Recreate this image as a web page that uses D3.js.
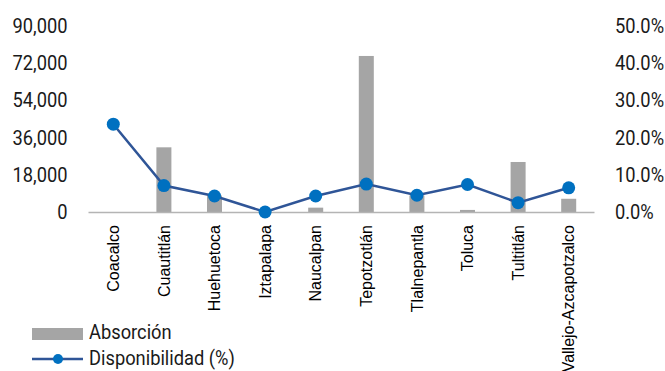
<!DOCTYPE html>
<html>
<head>
<meta charset="utf-8">
<script src="https://cdn.jsdelivr.net/npm/d3@7"></script>
<style>
  html, body { margin: 0; padding: 0; background: #fff; }
  svg { display: block; }
</style>
</head>
<body>
<svg id="chart" width="665" height="371"></svg>
<script>
const categories = ["Coacalco", "Cuautitlán", "Huehuetoca", "Iztapalapa", "Naucalpan", "Tepotzotlán", "Tlalnepantla", "Toluca", "Tultitlán", "Vallejo-Azcapotzalco"];
const absorcion = [0, 31300, 8000, 0, 2100, 75500, 8000, 1000, 24200, 6400];
const disponibilidad = [23.6, 7.1, 4.3, 0.0, 4.3, 7.5, 4.5, 7.4, 2.5, 6.5];
const leftTicks = [0, 18000, 36000, 54000, 72000, 90000];
const rightTicks = [0, 10, 20, 30, 40, 50];
const seriesNames = ["Absorción", "Disponibilidad (%)"];

const svg = d3.select("#chart");
const margin = { left: 88, right: 71, top: 26, bottom: 159 };
const W = 665, H = 371;
const x0 = margin.left, x1 = W - margin.right;
const y0 = H - margin.bottom, y1 = margin.top;

const x = d3.scaleBand().domain(categories).range([x0, x1]).padding(0);
const yL = d3.scaleLinear().domain([0, 90000]).range([y0, y1]);
const yR = d3.scaleLinear().domain([0, 50]).range([y0, y1]);

const barColor = "#a5a5a5";
const lineColor = "#2f5597";
const markerColor = "#0070c0";
const tickFont = "Roboto, sans-serif";
const fs = 20, sx = 0.915;

// Left axis
const gL = svg.append("g").attr("transform", `translate(${x0},0)`)
  .call(d3.axisLeft(yL).tickValues(leftTicks).tickSize(0).tickFormat(d3.format(",")));
gL.select(".domain").remove();
gL.selectAll("text").attr("font-family", tickFont).attr("font-size", fs).attr("fill", "#1a1a1a")
  .attr("x", -20.5 / sx).attr("transform", `scale(${sx},1)`);

// Right axis
const gR = svg.append("g").attr("transform", `translate(${x1},0)`)
  .call(d3.axisRight(yR).tickValues(rightTicks).tickSize(0).tickFormat(d => d3.format(".1f")(d) + "%"));
gR.select(".domain").remove();
gR.selectAll("text").attr("font-family", tickFont).attr("font-size", fs).attr("fill", "#1a1a1a")
  .attr("x", 21 / sx).attr("transform", `scale(${sx},1)`);

// Bars
const barW = 15;
svg.append("g").selectAll("rect").data(categories).join("rect")
  .attr("x", (d) => x(d) + x.bandwidth() / 2 - barW / 2)
  .attr("width", barW)
  .attr("y", (d, i) => yL(absorcion[i]))
  .attr("height", (d, i) => y0 - yL(absorcion[i]))
  .attr("fill", barColor);

// Bottom axis
const gB = svg.append("g").attr("transform", `translate(0,${y0})`)
  .call(d3.axisBottom(x).tickSize(0).tickSizeOuter(0));
gB.select(".domain").attr("stroke", "#b4b4b4").attr("stroke-width", 1.3);
gB.selectAll("text")
  .attr("font-family", "'Liberation Sans', Arial, sans-serif")
  .attr("font-size", 16)
  .attr("fill", "#000")
  .attr("text-anchor", "end")
  .attr("transform", "rotate(-90)")
  .attr("x", -13)
  .attr("y", 0)
  .attr("dy", "0.35em");

// Line
const line = d3.line()
  .x((d, i) => x(categories[i]) + x.bandwidth() / 2)
  .y(d => yR(d));
svg.append("path").datum(disponibilidad)
  .attr("d", line)
  .attr("fill", "none")
  .attr("stroke", lineColor)
  .attr("stroke-width", 2.5);
svg.append("g").selectAll("circle").data(disponibilidad).join("circle")
  .attr("cx", (d, i) => x(categories[i]) + x.bandwidth() / 2)
  .attr("cy", d => yR(d))
  .attr("r", 6.5)
  .attr("fill", markerColor);

// Legend
const lg = svg.append("g");
lg.append("rect").attr("x", 32).attr("y", 328).attr("width", 51).attr("height", 12).attr("fill", barColor);
lg.append("text").attr("transform", `translate(89,339) scale(${sx},1)`).text(seriesNames[0])
  .attr("font-family", tickFont).attr("font-size", fs).attr("fill", "#1a1a1a");
lg.append("line").attr("x1", 32).attr("x2", 83).attr("y1", 359).attr("y2", 359)
  .attr("stroke", lineColor).attr("stroke-width", 2.5);
lg.append("circle").attr("cx", 58).attr("cy", 359).attr("r", 5).attr("fill", markerColor);
lg.append("text").attr("transform", `translate(89,365) scale(${sx},1)`).text(seriesNames[1])
  .attr("font-family", tickFont).attr("font-size", fs).attr("fill", "#1a1a1a");
</script>
</body>
</html>
